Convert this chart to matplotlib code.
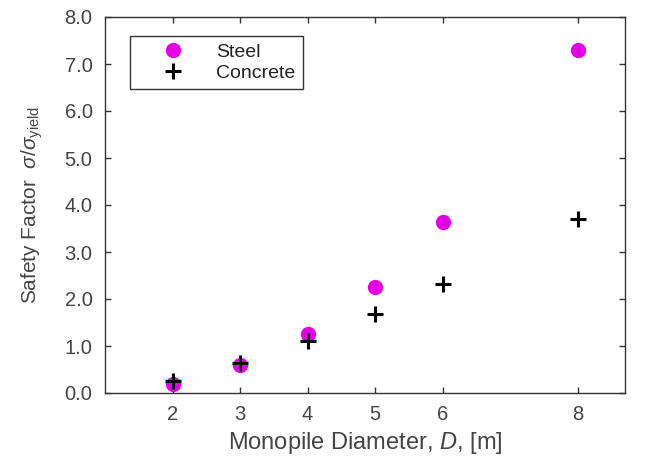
import matplotlib.pyplot as plt

plt.rcParams['font.family'] = ['Liberation Sans', 'DejaVu Sans']
plt.rcParams['mathtext.fontset'] = 'custom'
plt.rcParams['mathtext.rm'] = 'Liberation Sans'
plt.rcParams['mathtext.it'] = 'Liberation Sans:italic'

diameter = [2, 3, 4, 5, 6, 8]
steel = [0.20, 0.60, 1.25, 2.25, 3.64, 7.30]
concrete = [0.26, 0.64, 1.10, 1.68, 2.32, 3.70]

yticks = [0, 1, 2, 3, 4, 5, 6, 7, 8]
ytick_labels = ['0.0', '1.0', '2.0', '3.0', '4.0', '5.0', '6.0', '7.0', '8.0']

text_color = '#444444'

fig = plt.figure(figsize=(6.47, 4.57), dpi=100)
ax = fig.add_axes([105/647, 1 - 393/457, 520/647, 376/457])

ax.plot(diameter, steel, linestyle='none', marker='o', markersize=10,
        color='#e600e6', markeredgecolor='#e600e6', label='Steel')
ax.plot(diameter, concrete, linestyle='none', marker='+', markersize=11,
        markeredgewidth=2.2, color='black', label='Concrete')

ax.set_xlim(1.0, 8.7)
ax.set_ylim(0, 8)
ax.set_xticks(diameter)
ax.set_yticks(yticks)
ax.set_yticklabels(ytick_labels)

ax.tick_params(direction='in', top=True, right=True, length=4, width=1,
               labelsize=14.5, labelcolor=text_color, color='#333333', pad=9)
for s in ax.spines.values():
    s.set_color('#333333')
    s.set_linewidth(1.0)

ax.set_xlabel('Monopile Diameter, $\\mathit{D}$, [m]', fontsize=17, color=text_color, labelpad=4)
ax.set_ylabel('Safety Factor  $\\mathit{\\sigma/\\sigma}_{\\rm yield}$', fontsize=15, color=text_color, labelpad=14)

leg = ax.legend(loc='upper left', bbox_to_anchor=(0.048, 0.949), fontsize=14,
                fancybox=False, edgecolor='#333333', framealpha=1,
                borderaxespad=0, handlelength=3.7, handletextpad=0.4,
                borderpad=0.35, labelspacing=0.2)
leg.get_frame().set_linewidth(1.0)
for t in leg.get_texts():
    t.set_color('#222222')

fig.savefig('out.png', dpi=100)
